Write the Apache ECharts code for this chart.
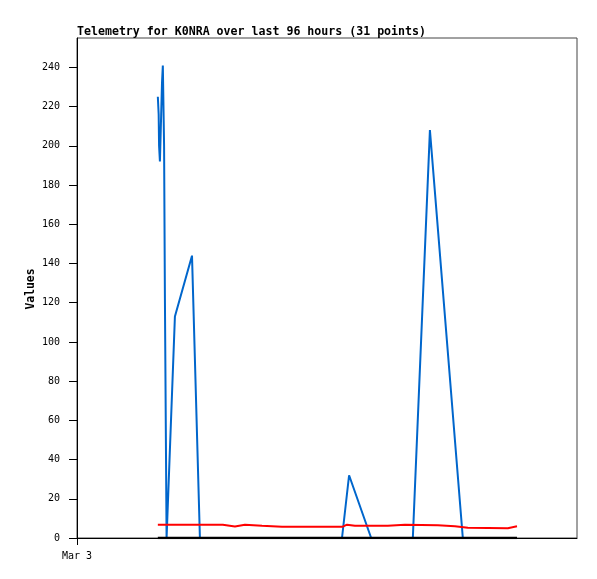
<!DOCTYPE html>
<html>
<head>
<meta charset="utf-8">
<script src="https://cdn.jsdelivr.net/npm/echarts@6/dist/echarts.min.js"></script>
<style>
html,body{margin:0;padding:0;background:#fff;}
#chart{width:597px;height:579px;}
</style>
</head>
<body>
<div id="chart"></div>
<script>
// hours since Mar 3 00:00
const blueHours  = [19.4, 19.6, 19.7, 19.9, 20.2, 20.4, 20.6, 20.9, 21.1, 21.5, 23.5, 27.6, 29.5, 63.6, 65.3, 70.6, 80.6, 84.7, 92.6, 105.6];
const blueValues = [225, 216, 200, 192, 216, 232, 241, 200, 122, 0, 113, 144, 0, 0, 32, 0, 0, 208, 0, 0];

const redHours  = [19.4, 35.0, 37.9, 40.3, 44.4, 49.2, 63.8, 64.8, 66.7, 74.6, 78.7, 86.6, 90.7, 93.8, 103.4, 105.6];
const redValues = [6.8, 6.8, 5.9, 6.8, 6.3, 5.8, 5.8, 6.8, 6.2, 6.3, 6.8, 6.5, 6.0, 5.2, 5.0, 6.0];

const blackHours  = [19.4, 105.6];
const blackValues = [0, 0];

const yTicks = [0, 20, 40, 60, 80, 100, 120, 140, 160, 180, 200, 220, 240];
const xTicks = [0];
const xTickLabels = ['Mar 3'];

const title = 'Telemetry for K0NRA over last 96 hours (31 points)';
const yName = 'Values';

const zip = (a, b) => a.map((v, i) => [v, b[i]]);

const chart = echarts.init(document.getElementById('chart'), null, {renderer: 'canvas'});
const mono = '"DejaVu Sans Mono", "Liberation Mono", monospace';
chart.setOption({
  animation: false,
  backgroundColor: '#ffffff',
  title: {
    text: title,
    left: 77,
    top: 26,
    padding: 0,
    textStyle: {fontFamily: mono, fontSize: 11.6, fontWeight: 'bold', color: '#000'}
  },
  graphic: [{
    type: 'text', x: 31, y: 289, rotation: Math.PI / 2,
    style: {text: yName, align: 'center', verticalAlign: 'middle',
            font: 'bold 11.4px "DejaVu Sans Mono", monospace', fill: '#000'}
  }],
  grid: {
    left: 77, right: 20, top: 38, bottom: 41,
    show: true, borderColor: '#444', borderWidth: 1, backgroundColor: 'transparent'
  },
  xAxis: {
    type: 'value', min: 0, max: 120,
    axisLine: {show: true, onZero: false, lineStyle: {color: '#000', width: 1}},
    axisTick: {show: true, length: 7, customValues: xTicks, lineStyle: {color: '#000'}},
    axisLabel: {
      customValues: xTicks,
      formatter: v => { const i = xTicks.indexOf(v); return i >= 0 ? xTickLabels[i] : ''; },
      fontFamily: mono, fontSize: 10, color: '#000', margin: 13
    },
    splitLine: {show: false}
  },
  yAxis: {
    type: 'value', min: 0, max: 255,
    axisLine: {show: true, lineStyle: {color: '#000', width: 1}},
    axisTick: {show: true, length: 8, customValues: yTicks, lineStyle: {color: '#000'}},
    axisLabel: {customValues: yTicks, fontFamily: mono, fontSize: 10, color: '#000', margin: 17},
    splitLine: {show: false}
  },
  series: [
    {type: 'line', data: zip(blueHours, blueValues), showSymbol: false, symbol: 'none',
     lineStyle: {color: '#0066cc', width: 2}, z: 2},
    {type: 'line', data: zip(redHours, redValues), showSymbol: false, symbol: 'none',
     lineStyle: {color: '#ff0000', width: 2}, z: 3},
    {type: 'line', data: zip(blackHours, blackValues), showSymbol: false, symbol: 'none',
     lineStyle: {color: '#000000', width: 2.5}, z: 4}
  ]
});
</script>
</body>
</html>
